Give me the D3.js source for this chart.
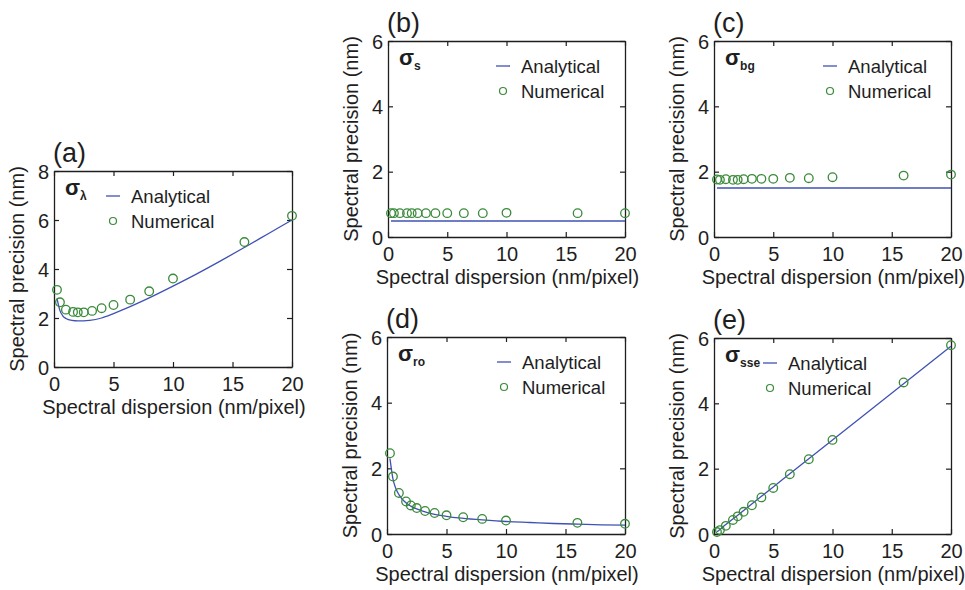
<!DOCTYPE html>
<html>
<head>
<meta charset="utf-8">
<script src="https://cdn.jsdelivr.net/npm/d3@7"></script>
<style>
  body { margin: 0; background: #fff; }
  svg { display: block; font-family: "Liberation Sans", Arial, sans-serif; }
</style>
</head>
<body>
<div id="chart"></div>
<script>
// shared x positions of the numerical points (nm/pixel)
var dispersion = [0.25, 0.5, 1, 1.6, 2, 2.5, 3.2, 4, 5, 6.4, 8, 10, 16, 20];

// (a) sigma lambda
var numA = [3.15, 2.64, 2.34, 2.25, 2.23, 2.23, 2.29, 2.40, 2.53, 2.75, 3.09, 3.61, 5.10, 6.17];
var anaXA = [0.25, 0.5, 0.75, 1, 1.5, 2, 2.5, 3, 4, 5, 6, 8, 10, 12, 14, 16, 18, 20];
var anaYA = [2.8, 2.3, 2.08, 1.98, 1.9, 1.88, 1.88, 1.9, 2.0, 2.18, 2.38, 2.82, 3.3, 3.8, 4.33, 4.88, 5.44, 6.0];

// (b) sigma s
var numB = [0.73, 0.73, 0.73, 0.73, 0.73, 0.73, 0.73, 0.73, 0.73, 0.73, 0.73, 0.74, 0.73, 0.73];
var anaXB = [0.25, 20];
var anaYB = [0.49, 0.49];

// (c) sigma bg
var numC = [1.76, 1.75, 1.77, 1.75, 1.75, 1.77, 1.78, 1.78, 1.78, 1.81, 1.80, 1.83, 1.88, 1.91];
var anaXC = [0.25, 20];
var anaYC = [1.5, 1.5];

// (d) sigma ro
var numD = [2.46, 1.75, 1.25, 0.99, 0.87, 0.79, 0.70, 0.64, 0.57, 0.51, 0.46, 0.41, 0.34, 0.31];
var anaXD = [0.25, 0.5, 0.75, 1, 1.5, 2, 3, 4, 5, 6, 8, 10, 12, 14, 16, 18, 20];
var anaYD = [2.3, 1.68, 1.38, 1.2, 0.98, 0.85, 0.7, 0.6, 0.54, 0.49, 0.43, 0.38, 0.35, 0.32, 0.3, 0.28, 0.27];

// (e) sigma sse
var numE = [0.06, 0.12, 0.25, 0.43, 0.54, 0.68, 0.88, 1.12, 1.41, 1.83, 2.29, 2.88, 4.64, 5.78];
var anaXE = [0.25, 0.5, 1, 2, 5, 10, 16, 20];
var anaYE = [0.07, 0.14, 0.29, 0.575, 1.44, 2.88, 4.6, 5.75];

var xTicks = [0, 5, 10, 15, 20];
var yTicksA = [0, 2, 4, 6, 8];
var yTicks = [0, 2, 4, 6];
var legendNames = ["Analytical", "Numerical"];

var lineColor = "#3f51b5";
var dotColor = "#3a8a3a";
var ink = "#1e1e1e";

var width = 965, height = 590;
var svg = d3.select("#chart").append("svg")
    .attr("width", width)
    .attr("height", height);

// panel boxes (pixel layout)
var panels = [
  { tag: "(a)", sub: "\u03bb", x0: 54, x1: 292, y0: 171, y1: 367, ymax: 8, yt: yTicksA, num: numA, ax: anaXA, ay: anaYA, leg: 59 },
  { tag: "(b)", sub: "s",  x0: 388, x1: 625, y0: 41, y1: 237, ymax: 6, yt: yTicks, num: numB, ax: anaXB, ay: anaYB, leg: 115 },
  { tag: "(c)", sub: "bg", x0: 714, x1: 951, y0: 41, y1: 237, ymax: 6, yt: yTicks, num: numC, ax: anaXC, ay: anaYC, leg: 116 },
  { tag: "(d)", sub: "ro", x0: 387, x1: 625, y0: 337, y1: 534, ymax: 6, yt: yTicks, num: numD, ax: anaXD, ay: anaYD, leg: 117 },
  { tag: "(e)", sub: "sse", x0: 714, x1: 951, y0: 338, y1: 534, ymax: 6, yt: yTicks, num: numE, ax: anaXE, ay: anaYE, leg: 56 }
];

function drawPanel(p) {
  var x = d3.scaleLinear().domain([0, 20]).range([p.x0, p.x1]);
  var y = d3.scaleLinear().domain([0, p.ymax]).range([p.y1, p.y0]);
  var g = svg.append("g");
  var fmt = d3.format("d");

  // axes: bottom / left with labels, top / right ticks only, all inward
  var bottom = g.append("g").attr("transform", "translate(0," + p.y1 + ")")
      .call(d3.axisBottom(x).tickValues(xTicks).tickFormat(fmt).tickSizeInner(-5).tickSizeOuter(0).tickPadding(10));
  var left = g.append("g").attr("transform", "translate(" + p.x0 + ",0)")
      .call(d3.axisLeft(y).tickValues(p.yt).tickFormat(fmt).tickSizeInner(-5).tickSizeOuter(0).tickPadding(11));
  var top = g.append("g").attr("transform", "translate(0," + p.y0 + ")")
      .call(d3.axisTop(x).tickValues(xTicks).tickSizeInner(-5).tickSizeOuter(0).tickFormat(""));
  var right = g.append("g").attr("transform", "translate(" + p.x1 + ",0)")
      .call(d3.axisRight(y).tickValues(p.yt).tickSizeInner(-5).tickSizeOuter(0).tickFormat(""));

  [bottom, left, top, right].forEach(function (a) {
    a.select(".domain").attr("stroke", ink).attr("stroke-width", 1.3);
    a.selectAll(".tick line").attr("stroke", ink).attr("stroke-width", 1.2);
    a.selectAll(".tick text").attr("fill", ink).style("font-size", "20px")
      .style("font-family", "'Liberation Sans', Arial, sans-serif");
  });
  left.selectAll(".tick text").attr("dy", "0.36em").attr("x", -5);

  // axis titles
  g.append("text")
    .attr("x", (p.x0 + p.x1) / 2 + 1)
    .attr("y", p.y1 + 47)
    .attr("text-anchor", "middle")
    .attr("fill", ink)
    .style("font-size", "20px")
    .text("Spectral dispersion (nm/pixel)");
  g.append("text")
    .attr("transform", "translate(" + (p.x0 - 30) + "," + ((p.y0 + p.y1) / 2) + ") rotate(-90)")
    .attr("text-anchor", "middle")
    .attr("fill", ink)
    .style("font-size", "20px")
    .text("Spectral precision (nm)");

  // panel tag
  g.append("text")
    .attr("x", p.x0 - 1)
    .attr("y", p.y0 - 9)
    .attr("fill", ink)
    .style("font-size", "27px")
    .text(p.tag);

  // sigma symbol
  var sg = g.append("text")
    .attr("x", p.x0 + 11)
    .attr("y", p.y0 + 24)
    .attr("fill", ink)
    .style("font-weight", "bold")
    .style("font-size", "22px");
  sg.append("tspan").text("\u03c3");
  sg.append("tspan").attr("dy", 5).style("font-size", "12px").text(p.sub);

  // analytical line
  var pts = p.ax.map(function (v, i) { return [v, p.ay[i]]; });
  g.append("path")
    .datum(pts)
    .attr("fill", "none")
    .attr("stroke", lineColor)
    .attr("stroke-width", 1.3)
    .attr("d", d3.line().x(function (d) { return x(d[0]); }).y(function (d) { return y(d[1]); })
      .curve(d3.curveMonotoneX));

  // numerical points
  g.selectAll("circle.num")
    .data(dispersion.map(function (v, i) { return [v, p.num[i]]; }))
    .enter().append("circle")
    .attr("class", "num")
    .attr("cx", function (d) { return x(d[0]); })
    .attr("cy", function (d) { return y(d[1]); })
    .attr("r", 4.3)
    .attr("fill", "none")
    .attr("stroke", dotColor)
    .attr("stroke-width", 1.3);

  // legend
  var lx = p.x0 + p.leg;
  var ly = p.y0 + 25;
  g.append("line")
    .attr("x1", lx - 7).attr("x2", lx + 7)
    .attr("y1", ly).attr("y2", ly)
    .attr("stroke", lineColor).attr("stroke-width", 1.3);
  g.append("circle")
    .attr("cx", lx).attr("cy", ly + 25).attr("r", 3.5)
    .attr("fill", "none").attr("stroke", dotColor).attr("stroke-width", 1.2);
  legendNames.forEach(function (name, i) {
    g.append("text")
      .attr("x", lx + 18)
      .attr("y", ly + i * 25 + 6.5)
      .attr("fill", ink)
      .style("font-size", "18.5px")
      .text(name);
  });
}

panels.forEach(drawPanel);
</script>
</body>
</html>
